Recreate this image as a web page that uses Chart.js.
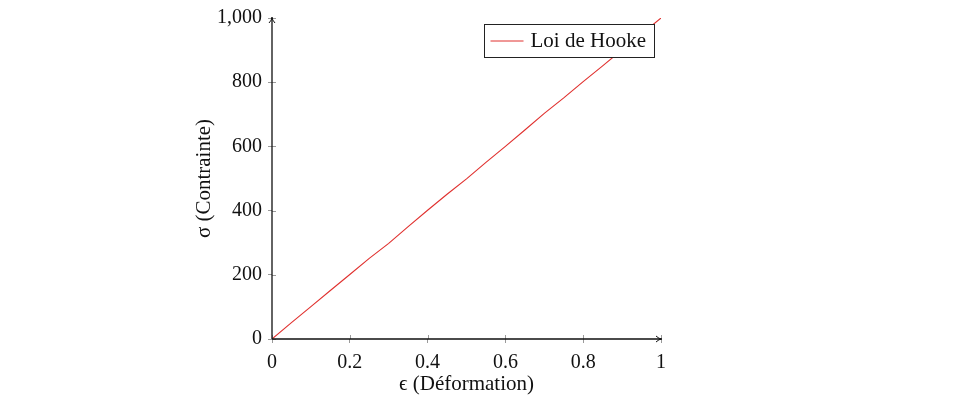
<!DOCTYPE html>
<html>
<head>
<meta charset="utf-8">
<script src="https://cdn.jsdelivr.net/npm/chart.js@4"></script>
<style>
  html, body { margin: 0; padding: 0; background: #fff; }
  #wrap { width: 979px; height: 403px; }
</style>
</head>
<body>
<div id="wrap"><canvas id="c"></canvas></div>
<script>
// Strain / stress samples
const strainValues = [0, 0.05, 0.1, 0.15, 0.2, 0.25, 0.3, 0.35, 0.4, 0.45, 0.5, 0.55, 0.6, 0.65, 0.7, 0.75, 0.8, 0.85, 0.9, 0.95, 1];
const stressValues = [0, 51, 101, 151, 201, 251, 298, 350, 401, 451, 499, 550, 600, 651, 703, 751, 802, 851, 901, 950, 1000];
const xTicks = [0, 0.2, 0.4, 0.6, 0.8, 1];
const yTicks = [0, 200, 400, 600, 800, 1000];
const seriesLabel = 'Loi de Hooke';

const FONT = "'Liberation Serif', 'DejaVu Serif', serif";

// axis arrows + inner half of the ticks, like pgfplots "axis lines=left"
const axisPlugin = {
    id: 'axisArrows',
    afterDraw(chart) {
        const ctx = chart.ctx;
        const a = chart.chartArea;
        const xs = chart.scales.x, ys = chart.scales.y;
        ctx.save();
        ctx.strokeStyle = '#9a9a9a';
        ctx.lineWidth = 1;
        for (const v of xTicks) {
            const px = Math.round(xs.getPixelForValue(v)) + 0.5;
            ctx.beginPath(); ctx.moveTo(px, a.bottom); ctx.lineTo(px, a.bottom - 4); ctx.stroke();
        }
        for (const v of yTicks) {
            const py = Math.round(ys.getPixelForValue(v)) + 0.5;
            ctx.beginPath(); ctx.moveTo(a.left, py); ctx.lineTo(a.left + 4, py); ctx.stroke();
        }
        ctx.strokeStyle = '#111';
        ctx.lineWidth = 1.3;
        ctx.beginPath();
        ctx.moveTo(a.left, a.bottom); ctx.lineTo(a.left, a.top);
        ctx.moveTo(a.left, a.bottom); ctx.lineTo(a.right, a.bottom);
        ctx.stroke();
        // arrow heads
        ctx.lineWidth = 1;
        ctx.beginPath();
        ctx.moveTo(a.left - 3, a.top + 5); ctx.quadraticCurveTo(a.left, a.top + 2, a.left, a.top - 1);
        ctx.quadraticCurveTo(a.left, a.top + 2, a.left + 3, a.top + 5);
        ctx.stroke();
        ctx.beginPath();
        ctx.moveTo(a.right - 5, a.bottom - 3); ctx.quadraticCurveTo(a.right - 2, a.bottom, a.right + 1, a.bottom);
        ctx.quadraticCurveTo(a.right - 2, a.bottom, a.right - 5, a.bottom + 3);
        ctx.stroke();
        ctx.restore();
    }
};

// boxed legend in the top right corner
const boxLegend = {
    id: 'boxLegend',
    afterDraw(chart) {
        const ctx = chart.ctx;
        const a = chart.chartArea;
        const ds = chart.data.datasets[0];
        ctx.save();
        ctx.font = '21px ' + FONT;
        const tw = ctx.measureText(ds.label).width;
        const w = 7 + 33 + 7 + tw + 8;
        const h = 33;
        const x = a.right - 7 - w;
        const y = a.top + 6;
        ctx.fillStyle = '#fff';
        ctx.fillRect(x, y, w, h);
        ctx.strokeStyle = '#222';
        ctx.lineWidth = 1;
        ctx.strokeRect(Math.round(x) + 0.5, Math.round(y) + 0.5, Math.round(w), h);
        ctx.strokeStyle = ds.borderColor;
        ctx.beginPath();
        ctx.moveTo(x + 7, y + h / 2 + 0.5); ctx.lineTo(x + 40, y + h / 2 + 0.5);
        ctx.stroke();
        ctx.fillStyle = '#111';
        ctx.textBaseline = 'middle';
        ctx.fillText(ds.label, x + 47, y + h / 2 + 1);
        ctx.restore();
    }
};

new Chart(document.getElementById('c'), {
    type: 'line',
    data: {
        datasets: [{
            label: seriesLabel,
            data: strainValues.map((x, i) => ({ x: x, y: stressValues[i] })),
            borderColor: '#e0302e',
            borderWidth: 1.1,
            pointRadius: 0,
            tension: 0,
            fill: false
        }]
    },
    options: {
        responsive: true,
        maintainAspectRatio: false,
        animation: false,
        layout: { padding: { left: 190, right: 318, top: 17, bottom: 4 } },
        plugins: {
            legend: { display: false },
            tooltip: { enabled: false }
        },
        scales: {
            x: {
                type: 'linear',
                min: 0, max: 1,
                afterBuildTicks: s => { s.ticks = xTicks.map(v => ({ value: v })); },
                afterFit: s => { s.height = 60; },
                border: { display: false },
                grid: { drawOnChartArea: false, drawTicks: true, tickLength: 4, color: '#9a9a9a' },
                ticks: {
                    color: '#111',
                    padding: 8,
                    maxRotation: 0,
                    font: { family: FONT, size: 20 },
                    callback: v => String(v)
                },
                title: {
                    display: true,
                    text: 'ϵ (Déformation)',
                    color: '#111',
                    padding: { top: 2, bottom: 2 },
                    font: { family: FONT, size: 21 }
                }
            },
            y: {
                type: 'linear',
                min: 0, max: 1000,
                afterBuildTicks: s => { s.ticks = yTicks.map(v => ({ value: v })); },
                afterFit: s => { s.width = 82; },
                border: { display: false },
                grid: { drawOnChartArea: false, drawTicks: true, tickLength: 4, color: '#9a9a9a' },
                ticks: {
                    color: '#111',
                    padding: 6,
                    font: { family: FONT, size: 20 },
                    callback: v => v.toLocaleString('en-US')
                },
                title: {
                    display: true,
                    text: 'σ (Contrainte)',
                    color: '#111',
                    padding: { top: 2, bottom: 2 },
                    font: { family: FONT, size: 21 }
                }
            }
        }
    },
    plugins: [axisPlugin, boxLegend]
});
</script>
</body>
</html>
